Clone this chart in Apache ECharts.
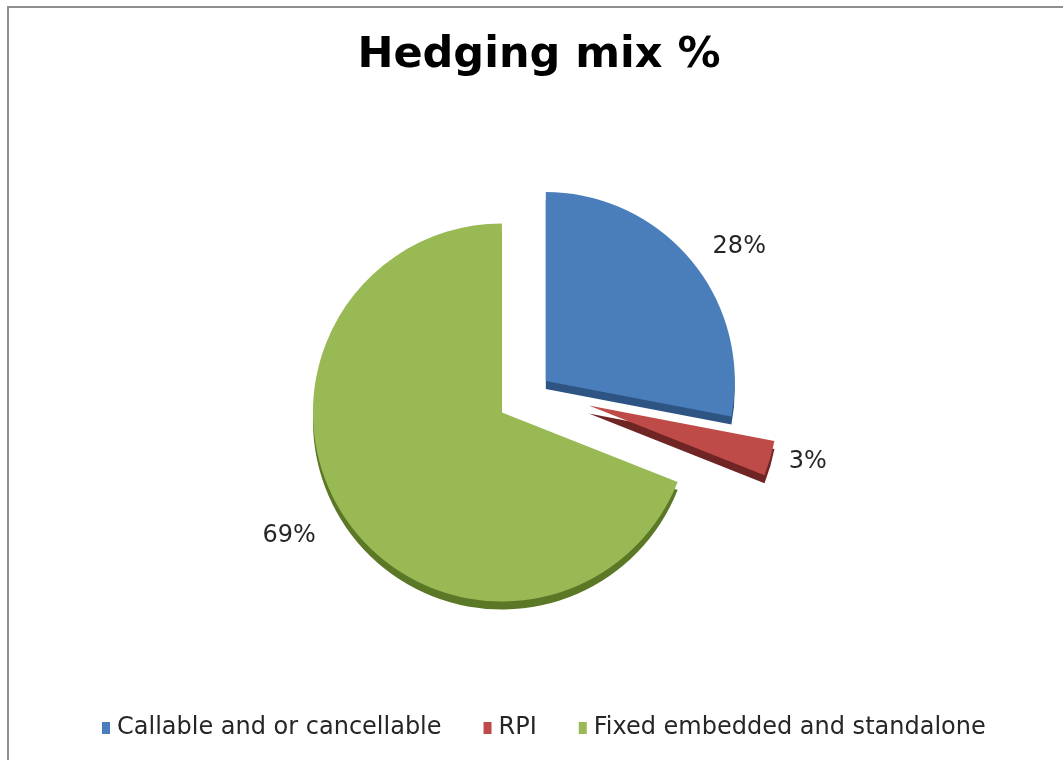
<!DOCTYPE html>
<html>
<head>
<meta charset="utf-8">
<script src="https://cdn.jsdelivr.net/npm/echarts@6/dist/echarts.min.js"></script>
<style>
  html, body { margin: 0; padding: 0; background: #ffffff; }
  #chart { width: 1063px; height: 760px; }
</style>
</head>
<body>
<div id="chart"></div>
<script>
// Hedging mix, share of each hedge type in percent
const titleText = 'Hedging mix %';
const categories = ['Callable and or cancellable', 'RPI', 'Fixed embedded and standalone'];
const shares = [28, 3, 69];

// Styling per slice: top face, side (thickness) colour, explode distance, label line length
const faceColors = ['#4A7EBB', '#BE4B48', '#98B954'];
const sideColors = ['#2E5484', '#6E2523', '#5B7827'];
const explodeOffsets = [14, 56, 40];
const labelLengths = [21, 14, 30];

const FONT = 'DejaVu Sans';
const chart = echarts.init(document.getElementById('chart'), null, { renderer: 'canvas' });

// Each slice lives in its own pie series (other slices left transparent) so that
// every slice can be pulled out from the common centre by its own distance.
function sliceSeries(k) {
  return {
    type: 'pie',
    name: categories[k],
    center: [535, 390],
    radius: 189,
    startAngle: 90,
    clockwise: true,
    selectedMode: 'multiple',
    selectedOffset: explodeOffsets[k],
    avoidLabelOverlap: false,
    silent: true,
    animation: false,
    z: 2,
    emphasis: { disabled: true },
    labelLine: { show: false, length: labelLengths[k], length2: 0 },
    data: categories.map(function (name, i) {
      const own = i === k;
      return {
        name: name,
        value: shares[i],
        selected: own,
        itemStyle: own
          ? { color: faceColors[i], borderWidth: 0, shadowColor: sideColors[i], shadowOffsetY: 8, shadowOffsetX: 0, shadowBlur: 0 }
          : { color: 'rgba(0,0,0,0)', borderWidth: 0 },
        label: own
          ? { show: true, position: 'outside', formatter: '{c}%', color: '#262626', fontSize: 24, fontFamily: FONT }
          : { show: false }
      };
    })
  };
}

const option = {
  backgroundColor: '#ffffff',
  title: {
    text: titleText,
    left: 539,
    textAlign: 'center',
    top: 34,
    padding: 0,
    textStyle: { fontSize: 43, fontWeight: 'bold', fontFamily: FONT, color: '#000000' }
  },
  legend: {
    data: categories.map(function (name, i) {
      return { name: name, itemStyle: { color: faceColors[i], shadowColor: 'rgba(0,0,0,0)' } };
    }),
    icon: 'rect',
    itemWidth: 8,
    itemHeight: 12,
    itemGap: 42,
    left: 97,
    top: 711,
    selectedMode: false,
    textStyle: { fontSize: 24, fontFamily: FONT, color: '#262626', padding: [0, 0, 0, 2] }
  },
  graphic: [{
    type: 'rect',
    silent: true,
    z: 0,
    shape: { x: 8, y: 7, width: 1100, height: 800 },
    style: { fill: 'none', stroke: '#8f8f8f', lineWidth: 2 }
  }],
  series: categories.map(function (_, k) { return sliceSeries(k); })
};

chart.setOption(option);
</script>
</body>
</html>
